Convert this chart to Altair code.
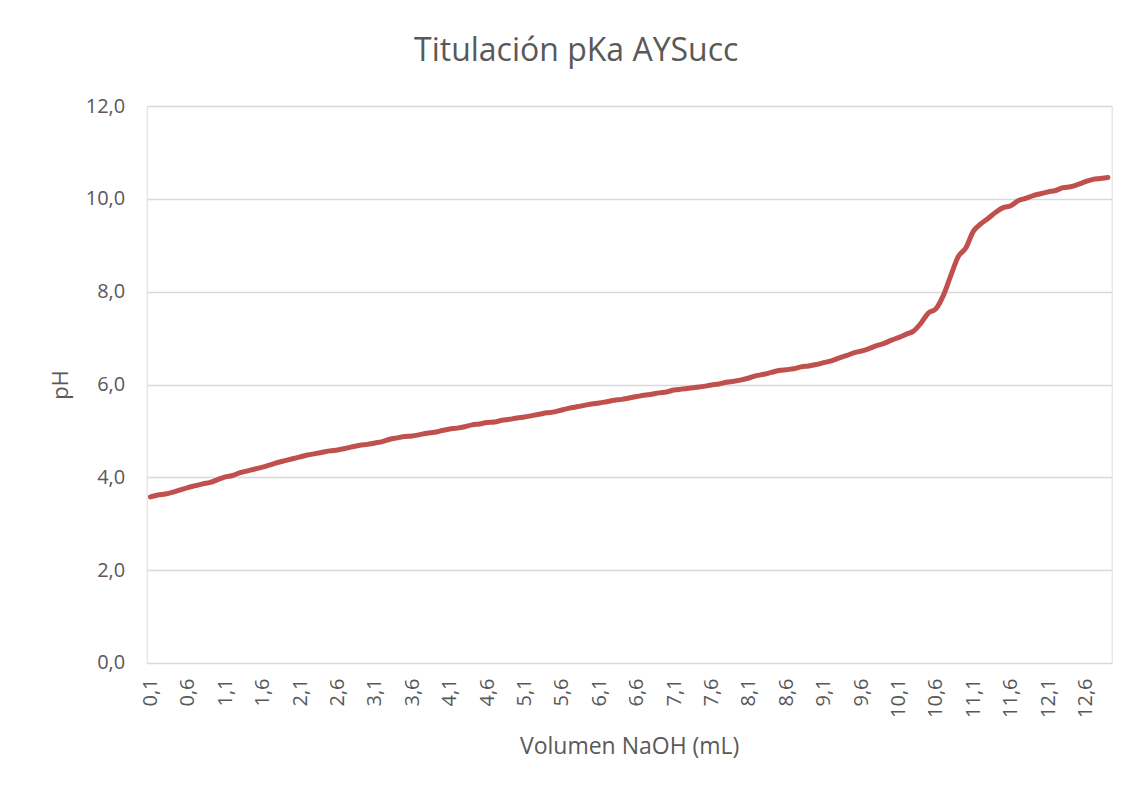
import altair as alt
import pandas as pd

# Categories: NaOH volume (mL), shown with decimal comma
volumes = [f"{i / 10:.1f}".replace(".", ",") for i in range(1, 130)]

# pH readings
ph = [
    3.58, 3.62, 3.64, 3.68, 3.73, 3.78, 3.82, 3.86, 3.89, 3.95,
    4.01, 4.04, 4.10, 4.14, 4.18, 4.22, 4.27, 4.32, 4.36, 4.40,
    4.44, 4.48, 4.51, 4.54, 4.57, 4.59, 4.62, 4.66, 4.69, 4.71,
    4.74, 4.77, 4.82, 4.85, 4.88, 4.89, 4.92, 4.95, 4.97, 5.01,
    5.04, 5.06, 5.09, 5.13, 5.15, 5.18, 5.19, 5.23, 5.25, 5.28,
    5.30, 5.33, 5.36, 5.39, 5.41, 5.45, 5.49, 5.52, 5.55, 5.58,
    5.60, 5.63, 5.66, 5.68, 5.71, 5.74, 5.77, 5.79, 5.82, 5.84,
    5.88, 5.90, 5.92, 5.94, 5.96, 5.99, 6.01, 6.05, 6.07, 6.10,
    6.14, 6.19, 6.22, 6.26, 6.30, 6.32, 6.34, 6.38, 6.40, 6.43,
    6.47, 6.51, 6.57, 6.62, 6.68, 6.72, 6.77, 6.83, 6.88, 6.95,
    7.01, 7.08, 7.15, 7.32, 7.54, 7.63, 7.92, 8.35, 8.76, 8.94,
    9.30, 9.46, 9.58, 9.71, 9.81, 9.85, 9.96, 10.01, 10.07, 10.11,
    10.15, 10.18, 10.24, 10.26, 10.31, 10.37, 10.42, 10.44, 10.46,
]

# Tick labels shown on the category axis (every 5th category)
x_ticks = volumes[::5]
y_ticks = [0, 2, 4, 6, 8, 10, 12]

df = pd.DataFrame({"vol": volumes, "ph": ph})

FONT = "Open Sans"
GREY = "#595959"
W, H = 965, 557

chart = (
    alt.Chart(df)
    .mark_line(color="#C0504D", strokeWidth=5, interpolate="monotone",
               strokeCap="round", strokeJoin="round")
    .encode(
        x=alt.X(
            "vol:O",
            sort=volumes,
            scale=alt.Scale(type="point", padding=0.5, domain=volumes),
            axis=alt.Axis(
                values=x_ticks,
                labelAngle=-90,
                labelPadding=15,
                labelFontSize=20,
                labelColor=GREY,
                labelFont=FONT,
                ticks=False,
                domain=False,
                grid=False,
                title="Volumen NaOH (mL)",
                titleFontSize=23,
                titleFontWeight="normal",
                titleColor=GREY,
                titleFont=FONT,
                titleX=W / 2,
                titleY=84,
                titleBaseline="middle",
                titleAlign="center",
            ),
        ),
        y=alt.Y(
            "ph:Q",
            scale=alt.Scale(domain=[0, 12], nice=False, zero=True),
            axis=alt.Axis(
                values=y_ticks,
                labelExpr="replace(format(datum.value, '.1f'), '.', ',')",
                labelPadding=22,
                labelFontSize=20,
                labelColor=GREY,
                labelFont=FONT,
                ticks=False,
                domain=False,
                grid=True,
                gridColor="#d9d9d9",
                gridWidth=1.3,
                title="pH",
                titleFontSize=22,
                titleFontWeight="normal",
                titleColor=GREY,
                titleFont=FONT,
                titleAngle=270,
                titleX=-86,
                titleY=H / 2,
                titleBaseline="middle",
                titleAlign="center",
            ),
        ),
    )
    .properties(
        width=W,
        height=H,
        autosize=alt.AutoSizeParams(type="none"),
        padding={"left": 138.7, "top": 98, "right": 16, "bottom": 110},
        title=alt.TitleParams(
            "Titulación pKa AYSucc",
            font=FONT,
            fontSize=32,
            fontWeight="normal",
            color=GREY,
            anchor="middle",
            dx=-53,
            offset=28,
        ),
    )
    .configure_view(stroke=None)
    .configure(background="white")
)

chart.save("out.html", embed_options={"renderer": "svg", "actions": False})
